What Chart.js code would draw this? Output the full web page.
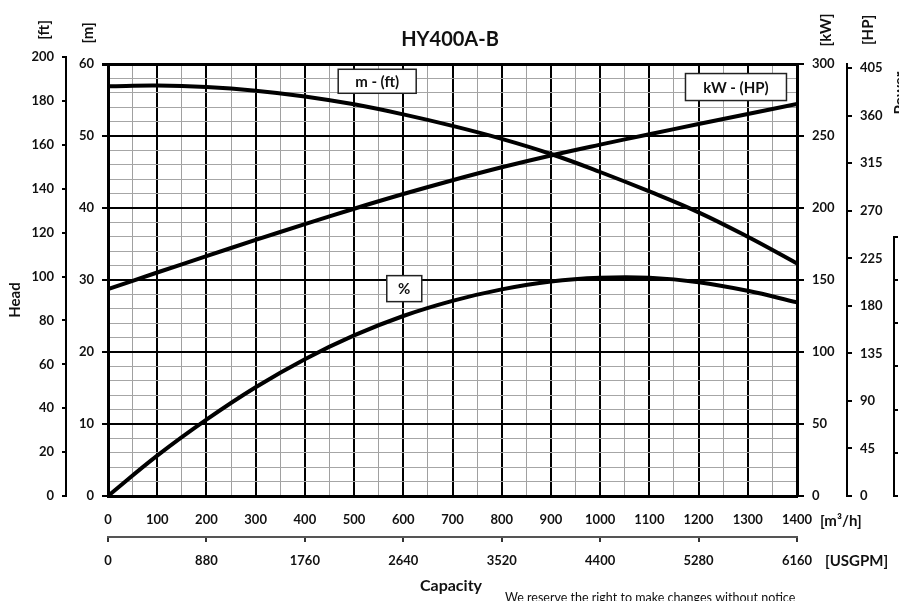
<!DOCTYPE html>
<html>
<head>
<meta charset="utf-8">
<title>HY400A-B</title>
<script src="https://cdn.jsdelivr.net/npm/chart.js@4.4.1/dist/chart.umd.min.js"></script>
<style>
  body { margin: 0; background: #fff; }
  canvas { display: block; }
</style>
</head>
<body>
<canvas id="pumpChart" width="899" height="601"></canvas>
<script>
// capacity, m3/h
const flow = [0, 100, 200, 300, 400, 500, 600, 700, 800, 900, 1000, 1100, 1200, 1300, 1400];
// head, m
const head = [56.9, 57.0, 56.8, 56.3, 55.5, 54.4, 53.0, 51.4, 49.6, 47.5, 45.0, 42.3, 39.4, 36.0, 32.3];
// shaft power, kW
const power = [143.7, 155.2, 166.6, 177.8, 188.8, 199.5, 209.7, 219.3, 228.3, 236.5, 244.0, 251.2, 258.3, 265.3, 272.3];
// efficiency curve (%), drawn on the head grid
const efficiency = [0, 5.6, 10.6, 15.1, 19.0, 22.3, 25.0, 27.1, 28.7, 29.8, 30.3, 30.3, 29.7, 28.5, 26.9];

// tick labels
const flowTicks = [0, 100, 200, 300, 400, 500, 600, 700, 800, 900, 1000, 1100, 1200, 1300, 1400];
const usgpmTicks = [0, 880, 1760, 2640, 3520, 4400, 5280, 6160];
const mTicks = [0, 10, 20, 30, 40, 50, 60];
const ftTicks = [0, 20, 40, 60, 80, 100, 120, 140, 160, 180, 200];
const kwTicks = [0, 50, 100, 150, 200, 250, 300];
const hpTicks = [0, 45, 90, 135, 180, 225, 270, 315, 360, 405];
const npshTicks = [0, 1, 2, 3, 4, 5, 6];

Chart.defaults.font.family = 'Lato, "Open Sans", sans-serif';
Chart.defaults.color = '#111';

const tickFont = { size: 13, weight: 'bold' };
const setTicks = list => scale => { scale.ticks = list.map(v => ({ value: v })); };
const width = w => scale => { scale.width = w; };
const height = h => scale => { scale.height = h; };
const isMajor = (list, ctx) => ctx.tick && list.includes(ctx.tick.value);
const plain = v => String(v);

function vText(ctx, text, x, y) {
  ctx.save();
  ctx.translate(x, y);
  ctx.rotate(-Math.PI / 2);
  ctx.fillText(text, 0, 0);
  ctx.restore();
}

const decorations = {
  id: 'decorations',
  beforeDraw(chart) {
    const ctx = chart.ctx;
    ctx.save();
    ctx.fillStyle = '#fff';
    ctx.fillRect(0, 0, chart.width, chart.height);
    ctx.restore();
  },
  afterDatasetsDraw(chart) {
    const { ctx, scales } = chart;
    const tags = [
      ['m - (ft)', 547, 57.6, 78, 24],
      ['kW - (HP)', 1276, 56.8, 101, 27],
      ['%', 602, 28.8, 35, 26]
    ];
    ctx.save();
    ctx.font = 'bold 15px Lato';
    ctx.textAlign = 'center';
    ctx.textBaseline = 'middle';
    tags.forEach(([text, q, h, w, hh]) => {
      const cx = scales.x.getPixelForValue(q);
      const cy = scales.m.getPixelForValue(h);
      ctx.fillStyle = '#fff';
      ctx.fillRect(cx - w / 2, cy - hh / 2, w, hh);
      ctx.strokeStyle = '#222';
      ctx.lineWidth = 1.5;
      ctx.strokeRect(cx - w / 2, cy - hh / 2, w, hh);
      ctx.fillStyle = '#111';
      ctx.fillText(text, cx, cy + 1);
    });
    ctx.restore();
  },
  afterDraw(chart) {
    const { ctx, scales } = chart;
    const ft = scales.ft, np = scales.npsh;
    ctx.save();
    // ft axis line runs up to 200 ft, above the plot frame
    ctx.strokeStyle = '#000';
    ctx.lineWidth = 2;
    ctx.beginPath();
    ctx.moveTo(ft.right - 1, ft.getPixelForValue(200));
    ctx.lineTo(ft.right - 1, ft.getPixelForValue(0));
    ctx.stroke();
    // partial third axis on the far right
    ctx.beginPath();
    ctx.moveTo(np.left + 1, np.getPixelForValue(6));
    ctx.lineTo(np.left + 1, np.getPixelForValue(0));
    ctx.stroke();

    ctx.fillStyle = '#111';
    ctx.textAlign = 'center';
    ctx.textBaseline = 'middle';
    ctx.font = 'bold 20px Lato';
    ctx.fillText('HY400A-B', 450, 40);

    ctx.font = 'bold 15px Lato';
    vText(ctx, '[ft]', 44, 30);
    vText(ctx, '[m]', 88, 33);
    vText(ctx, '[kW]', 826, 30);
    vText(ctx, '[HP]', 868, 30);
    vText(ctx, 'Power', 900, 93);
    vText(ctx, 'Head', 15, 300);

    ctx.textAlign = 'left';
    ctx.fillText('[m\u00B3/h]', 820, 521);
    ctx.fillText('[USGPM]', 825, 561);

    ctx.textAlign = 'center';
    ctx.font = 'bold 16px Lato';
    ctx.fillText('Capacity', 451, 586);

    ctx.textAlign = 'left';
    ctx.textBaseline = 'top';
    ctx.font = '12.5px Lato';
    ctx.fillText('We reserve the right to make changes without notice', 505, 592);
    ctx.restore();
  }
};

const toPoints = ys => flow.map((q, i) => ({ x: q, y: ys[i] }));
const curve = {
  borderColor: '#000',
  borderWidth: 4,
  pointRadius: 0,
  fill: false,
  tension: 0.4
};

new Chart(document.getElementById('pumpChart'), {
  type: 'line',
  data: {
    datasets: [
      Object.assign({ label: 'm - (ft)', data: toPoints(head), yAxisID: 'm' }, curve),
      Object.assign({ label: 'kW - (HP)', data: toPoints(power), yAxisID: 'kw' }, curve),
      Object.assign({ label: '%', data: toPoints(efficiency), yAxisID: 'm' }, curve)
    ]
  },
  options: {
    responsive: false,
    animation: false,
    devicePixelRatio: 1,
    layout: { padding: { top: 64, left: 0, right: 0, bottom: 0 } },
    plugins: { legend: { display: false }, tooltip: { enabled: false } },
    scales: {
      x: {
        type: 'linear', position: 'bottom', weight: 0, min: 0, max: 1400,
        ticks: { stepSize: 50, maxTicksLimit: 100, autoSkip: false, maxRotation: 0, padding: 16, font: tickFont,
                 callback: v => flowTicks.includes(v) ? String(v) : '' },
        grid: { drawTicks: false,
                color: c => isMajor(flowTicks, c) ? '#000' : '#a0a0a0',
                lineWidth: c => isMajor(flowTicks, c) ? 2 : 1 },
        border: { color: '#000', width: 3 },
        afterFit: height(41)
      },
      usgpm: {
        type: 'linear', position: 'bottom', weight: 1, min: 0, max: 6160,
        afterBuildTicks: setTicks(usgpmTicks),
        ticks: { autoSkip: false, maxRotation: 0, padding: 11, font: tickFont, callback: plain },
        grid: { drawOnChartArea: false, tickLength: 5, color: '#333', lineWidth: 2 },
        border: { color: '#555', width: 2 },
        afterFit: height(64)
      },
      m: {
        type: 'linear', position: 'left', weight: 0, min: 0, max: 60,
        ticks: { stepSize: 2, maxTicksLimit: 100, autoSkip: false, padding: 8, font: tickFont,
                 callback: v => mTicks.includes(v) ? String(v) : '' },
        grid: { tickLength: 6,
                color: c => isMajor(mTicks, c) ? '#000' : '#a6a6a6',
                tickColor: c => isMajor(mTicks, c) ? '#000' : 'rgba(0,0,0,0)',
                lineWidth: c => (c.tick && c.tick.value === 60) ? 3 : (isMajor(mTicks, c) ? 2 : 1) },
        border: { color: '#000', width: 3 },
        afterFit: width(41)
      },
      ft: {
        type: 'linear', position: 'left', weight: 1, min: 0, max: 60 / 0.3048,
        afterBuildTicks: setTicks(ftTicks),
        ticks: { autoSkip: false, padding: 8, font: tickFont, callback: plain },
        grid: { drawOnChartArea: false, tickLength: 5, color: '#000', lineWidth: 2 },
        border: { display: false },
        afterFit: width(67)
      },
      kw: {
        type: 'linear', position: 'right', weight: 0, min: 0, max: 300,
        afterBuildTicks: setTicks(kwTicks),
        ticks: { autoSkip: false, padding: 8, font: tickFont, callback: plain },
        grid: { drawOnChartArea: false, tickLength: 7, color: '#000', lineWidth: 2 },
        border: { color: '#000', width: 3 },
        afterFit: width(50)
      },
      hp: {
        type: 'linear', position: 'right', weight: 1, min: 0, max: 409,
        afterBuildTicks: setTicks(hpTicks),
        ticks: { autoSkip: false, padding: 8, font: tickFont, callback: plain },
        grid: { drawOnChartArea: false, tickLength: 5, color: '#000', lineWidth: 2 },
        border: { color: '#000', width: 2 },
        afterFit: width(46)
      },
      npsh: {
        type: 'linear', position: 'right', weight: 2, min: 0, max: 10,
        afterBuildTicks: setTicks(npshTicks),
        ticks: { autoSkip: false, padding: 8, font: tickFont, callback: plain },
        grid: { drawOnChartArea: false, tickLength: 5, color: '#000', lineWidth: 2 },
        border: { display: false },
        afterFit: width(6)
      }
    }
  },
  plugins: [decorations]
});
</script>
</body>
</html>
